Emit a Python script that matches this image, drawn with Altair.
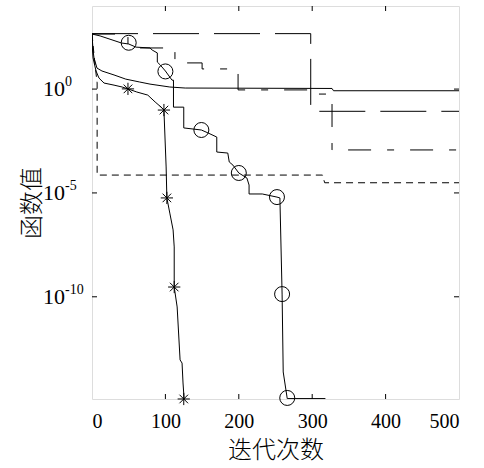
import altair as alt
import pandas as pd

# ---- data: iteration (x) and log10 of function value (y) ----
# long-dash series
a_it = [0, 298, 298, 500]
a_lg = [2.67, 2.67, -1.07, -1.07]
# plain solid series
b_it = [0, 1.4, 2.7, 6.8, 13.6, 30, 46, 65, 79, 106, 127, 327, 329, 500]
b_lg = [2.65, 1.88, 1.50, 1.01, 0.87, 0.68, 0.48, 0.34, 0.24, 0.10, 0.05, 0.03, -0.08, -0.08]
# dash-dot series
c_it = [0, 49, 49, 113, 113, 150, 150, 199, 199, 308, 308, 327, 327, 500]
c_lg = [2.65, 2.65, 1.98, 1.98, 1.26, 1.26, 0.97, 0.97, -0.04, -0.04, -0.24, -0.24, -2.93, -2.93]
# short-dash series
d_it = [0, 4, 7, 7, 314, 317, 500]
d_lg = [2.65, 1.2, 0.3, -4.14, -4.14, -4.51, -4.51]
# solid series with circles
e_it = [0, 11, 40, 50, 60, 79, 82, 89, 89, 93, 100, 109, 111, 111, 125, 125, 149, 158, 170, 170,
        185, 187, 192, 200, 211, 214, 214, 232, 252, 256, 259, 260.5, 266, 318]
e_lg = [2.65, 2.56, 2.22, 2.17, 2.02, 1.98, 1.88, 1.74, 1.30, 1.16, 0.87, 0.43, 0.43, -0.87, -0.87,
        -1.87, -1.97, -2.11, -2.31, -3.03, -3.08, -3.51, -3.66, -4.04, -4.28, -4.62, -5.05, -5.05,
        -5.20, -5.24, -9.87, -13.62, -14.90, -14.90]
e_mk_it = [50, 100, 149, 200, 252, 259, 266]
e_mk_lg = [2.23, 0.85, -1.97, -4.04, -5.20, -9.87, -14.87]
# solid series with asterisks
f_it = [0, 0.7, 1.4, 5.5, 9.5, 16.4, 30, 41, 49, 61, 76, 86, 95.5, 98, 101, 102, 106, 110.5, 112,
        112, 116, 120, 122.7, 124, 125.5]
f_lg = [2.65, 1.88, 1.50, 0.87, 0.53, 0.29, 0.19, 0.10, 0.01, -0.14, -0.29, -0.62, -0.91, -1.01,
        -3.75, -5.24, -5.97, -6.78, -7.60, -9.53, -10.49, -13.04, -13.19, -14.15, -14.92]
f_mk_it = [49, 98, 102, 112, 125]
f_mk_lg = [0.01, -1.01, -5.24, -9.53, -14.92]

x_ticks = [0, 100, 200, 300, 400, 500]
x_inner_ticks = [100, 200, 300, 400]
y_tick_vals = [1e0, 1e-5, 1e-10]
y_tick_base = ["10", "10", "10"]
y_tick_exp = ["0", "-5", "-10"]

W, H = 367, 393
SERIF = "Liberation Serif"
CJK = "Noto Sans CJK SC"

xs = alt.Scale(domain=[0, 500], nice=False, zero=False)
ys = alt.Scale(type="log", domain=[1.2e-15, 1e4], nice=False)

x_axis = alt.Axis(
    values=x_ticks, ticks=False, domain=False, grid=False,
    labelFont=SERIF, labelFontSize=20, labelColor="black", labelPadding=12,
    title="迭代次数", titleFont=CJK, titleFontSize=24, titleFontWeight=300,
    titleColor="black", titlePadding=7)
y_axis = alt.Axis(
    values=y_tick_vals, labels=False, ticks=False, domain=False, grid=False,
    title="函数值", titleFont=CJK, titleFontSize=24, titleFontWeight=300,
    titleColor="black", titlePadding=48)


def X(field):
    return alt.X(field, scale=xs, axis=x_axis)


def Y(field):
    return alt.Y(field, scale=ys, axis=y_axis)


def frame(its, lgs):
    return pd.DataFrame({"it": its, "val": [10 ** v for v in lgs], "i": list(range(len(its)))})


def line(its, lgs, dash=None):
    kw = dict(stroke="black", strokeWidth=1, clip=True)
    if dash:
        kw["strokeDash"] = dash
    return alt.Chart(frame(its, lgs)).mark_line(**kw).encode(
        x=X("it:Q"), y=Y("val:Q"), order="i:Q")


layers = [
    line(b_it, b_lg),
    line(a_it, a_lg, dash=[46, 15]),
    line(c_it, c_lg, dash=[23, 16, 7, 16]),
    line(d_it, d_lg, dash=[7, 5]),
    line(e_it, e_lg),
    line(f_it, f_lg),
]

circles = alt.Chart(frame(e_mk_it, e_mk_lg)).mark_point(
    shape="circle", size=225, filled=False, stroke="black", strokeWidth=1, opacity=1
).encode(x=X("it:Q"), y=Y("val:Q"))

asterisk = "M-1,0L1,0M0,-1L0,1M-0.7,-0.7L0.7,0.7M-0.7,0.7L0.7,-0.7"
stars = alt.Chart(frame(f_mk_it, f_mk_lg)).mark_point(
    shape=asterisk, size=150, filled=False, stroke="black", strokeWidth=1, opacity=1
).encode(x=X("it:Q"), y=Y("val:Q"))

xt = pd.DataFrame({"v": x_inner_ticks})
yt = pd.DataFrame({"v": y_tick_vals, "base": y_tick_base, "exp": y_tick_exp})

tick_top = alt.Chart(xt).mark_rule(color="black", strokeWidth=1).encode(
    x=X("v:Q"), y=alt.value(0), y2=alt.value(5))
tick_bot = alt.Chart(xt).mark_rule(color="black", strokeWidth=1).encode(
    x=X("v:Q"), y=alt.value(H), y2=alt.value(H - 5))
tick_left = alt.Chart(yt).mark_rule(color="black", strokeWidth=1).encode(
    y=Y("v:Q"), x=alt.value(0), x2=alt.value(5))
tick_right = alt.Chart(yt).mark_rule(color="black", strokeWidth=1).encode(
    y=Y("v:Q"), x=alt.value(W), x2=alt.value(W - 5))

lab_base = alt.Chart(yt).mark_text(
    align="right", baseline="middle", font=SERIF, fontSize=22, color="black"
).encode(y=Y("v:Q"), x=alt.value(-27), text="base:N")
lab_exp = alt.Chart(yt).mark_text(
    align="left", baseline="middle", font=SERIF, fontSize=14, color="black", dy=-7
).encode(y=Y("v:Q"), x=alt.value(-27), text="exp:N")

chart = alt.layer(
    *layers, circles, stars, tick_top, tick_bot, tick_left, tick_right, lab_base, lab_exp
).properties(
    width=W, height=H,
    padding={"left": 92, "top": 6, "right": 25, "bottom": 69},
    autosize=alt.AutoSizeParams(type="none"),
).configure_view(stroke="black", strokeWidth=1.2).configure(background="white")

chart.save("out.html", embed_options={"renderer": "svg", "actions": False})
